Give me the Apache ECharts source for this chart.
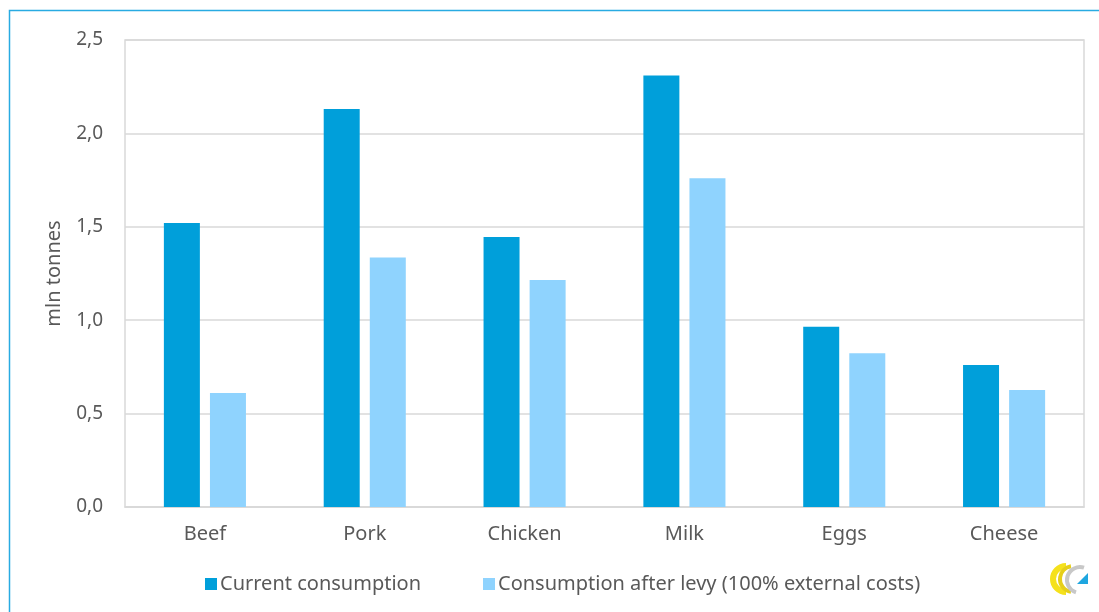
<!DOCTYPE html>
<html>
<head>
<meta charset="utf-8">
<script src="https://cdn.jsdelivr.net/npm/echarts@6/dist/echarts.min.js"></script>
<style>
html,body{margin:0;padding:0;background:#fff;}
#chart{width:1099px;height:612px;}
</style>
</head>
<body>
<div id="chart"></div>
<script>
var categories = ['Beef', 'Pork', 'Chicken', 'Milk', 'Eggs', 'Cheese'];
var currentConsumption = [1.52, 2.13, 1.445, 2.31, 0.965, 0.76];
var afterLevy = [0.61, 1.335, 1.215, 1.76, 0.823, 0.626];
var seriesNames = ['Current consumption', 'Consumption after levy (100% external costs)'];
var yAxisName = 'mln tonnes';

var FONT = 'Noto Sans';
var TXT = '#595959';
var chart = echarts.init(document.getElementById('chart'), null, {renderer: 'canvas'});
chart.setOption({
  backgroundColor: '#ffffff',
  animation: false,
  textStyle: {fontFamily: FONT},
  grid: {left: 125, right: 15, top: 40, bottom: 105, show: true, borderColor: '#d9d9d9', borderWidth: 1.5},
  legend: {
    data: seriesNames,
    bottom: 13,
    left: 200,
    itemWidth: 12,
    itemHeight: 12,
    itemGap: 62,
    icon: 'rect',
    textStyle: {fontFamily: FONT, fontSize: 20, color: TXT, padding: [0, 0, 0, -2]}
  },
  xAxis: {
    type: 'category',
    data: categories,
    axisLine: {show: true, lineStyle: {color: '#d9d9d9', width: 1.5}},
    axisTick: {show: false},
    axisLabel: {fontFamily: FONT, fontSize: 20, color: TXT, margin: 17}
  },
  yAxis: {
    type: 'value',
    min: 0, max: 2.5, interval: 0.5,
    name: yAxisName,
    nameLocation: 'middle',
    nameGap: 61,
    nameTextStyle: {fontFamily: FONT, fontSize: 20, color: TXT},
    axisLine: {show: false},
    axisTick: {show: false},
    splitLine: {lineStyle: {color: '#d9d9d9', width: 1.5}},
    axisLabel: {
      fontFamily: FONT, fontSize: 19, color: TXT, margin: 22,
      formatter: function (v) { return v.toFixed(1).replace('.', ','); }
    }
  },
  series: [
    {name: seriesNames[0], type: 'bar', data: currentConsumption, barWidth: 36, barGap: '28%',
     itemStyle: {color: '#009fda'}},
    {name: seriesNames[1], type: 'bar', data: afterLevy, barWidth: 36,
     itemStyle: {color: '#8fd3fe'}}
  ],
  graphic: [
    {type: 'polyline', shape: {points: [[9.5, 640], [9.5, 10.5], [1120, 10.5]]},
     style: {stroke: '#29abe2', lineWidth: 1.5, fill: null}, silent: true},
    // logo approximation
    {type: 'arc', shape: {cx: 1066, cy: 579, r: 13, startAngle: Math.PI * 0.5, endAngle: Math.PI * 1.5},
     style: {stroke: '#f5e11c', lineWidth: 6, fill: null}, silent: true},
    {type: 'arc', shape: {cx: 1073, cy: 579, r: 13, startAngle: Math.PI * 0.55, endAngle: Math.PI * 1.45},
     style: {stroke: '#e6cf1a', lineWidth: 4, fill: null}, silent: true},
    {type: 'arc', shape: {cx: 1080, cy: 580, r: 13, startAngle: Math.PI * 0.6, endAngle: Math.PI * 1.6},
     style: {stroke: '#c8c8c8', lineWidth: 4, fill: null}, silent: true},
    {type: 'polygon', shape: {points: [[1077, 584], [1088, 584], [1088, 573]]},
     style: {fill: '#1ea6e0'}, silent: true}
  ]
});
</script>
</body>
</html>
